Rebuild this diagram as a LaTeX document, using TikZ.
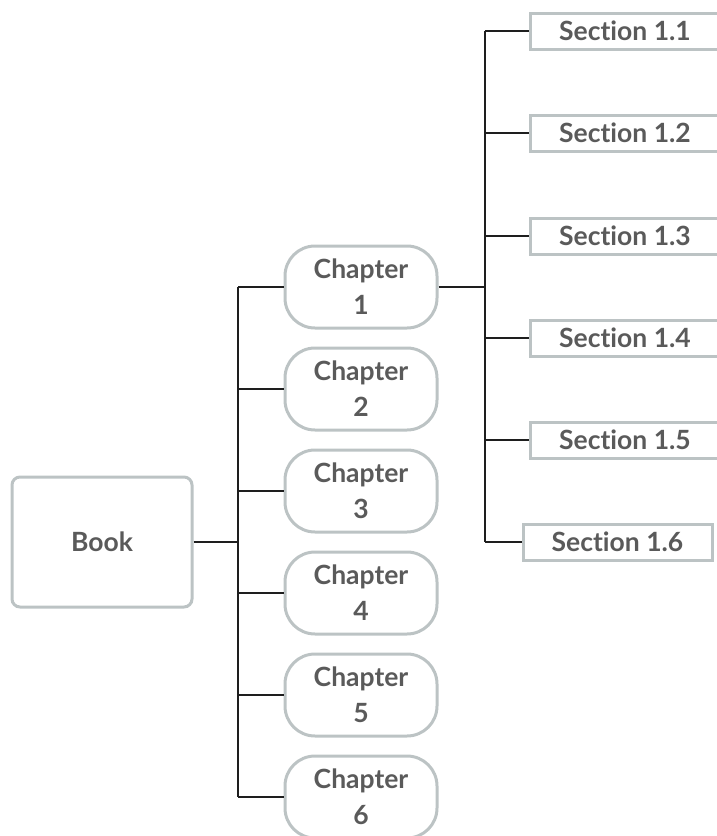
\documentclass[tikz,border=0pt]{standalone}
\usepackage{fontspec}
\setmainfont[Ligatures=NoCommon]{Lato}
\definecolor{bordergray}{HTML}{BCC3C4}
\definecolor{textgray}{HTML}{5A5A5A}
\definecolor{linegray}{HTML}{1E1E1E}
\begin{document}
\begin{tikzpicture}[x=1pt,y=-1pt,
  every node/.style={font=\fontsize{26.5}{36}\selectfont\bfseries, text=textgray},
  bookbox/.style={draw=bordergray, line width=3pt, rounded corners=8pt, minimum width=180pt, minimum height=130pt},
  chapbox/.style={draw=bordergray, line width=3pt, rounded corners=30pt, minimum width=152pt, minimum height=82pt, inner sep=0pt, align=center},
  secbox/.style={draw=bordergray, line width=3pt, minimum width=190pt, minimum height=36pt, inner sep=0pt},
  conn/.style={draw=linegray, line width=1.6pt}]
\useasboundingbox (0,0) rectangle (717,836);
\node[bookbox] (book) at (102,542) {Book};
\foreach \i/\y in {1/287,2/389,3/491,4/593,5/695,6/797}{
  \node[chapbox] (ch\i) at (361,\y) {Chapter\\\i};
}
\foreach \i/\y in {1/31,2/133,3/236,4/338,5/440}{
  \node[secbox] (s\i) at (625,\y) {Section 1.\i};
}
\node[secbox, minimum width=189pt] (s6) at (617.5,542) {Section 1.6};
\coordinate (tA) at (238,287);
\coordinate (tB) at (238,797);
\draw[conn] (book.east) -- (238,542);
\draw[conn] (tA) -- (tB);
\foreach \i in {1,...,6}{
  \draw[conn] (ch\i.west) -- (ch\i.west -| tA);
}
\coordinate (sA) at (485,31);
\coordinate (sB) at (485,542);
\draw[conn] (sA) -- (sB);
\draw[conn] (ch1.east) -- (ch1.east -| sA);
\foreach \i in {1,...,6}{
  \draw[conn] (s\i.west) -- (s\i.west -| sA);
}
\end{tikzpicture}
\end{document}
